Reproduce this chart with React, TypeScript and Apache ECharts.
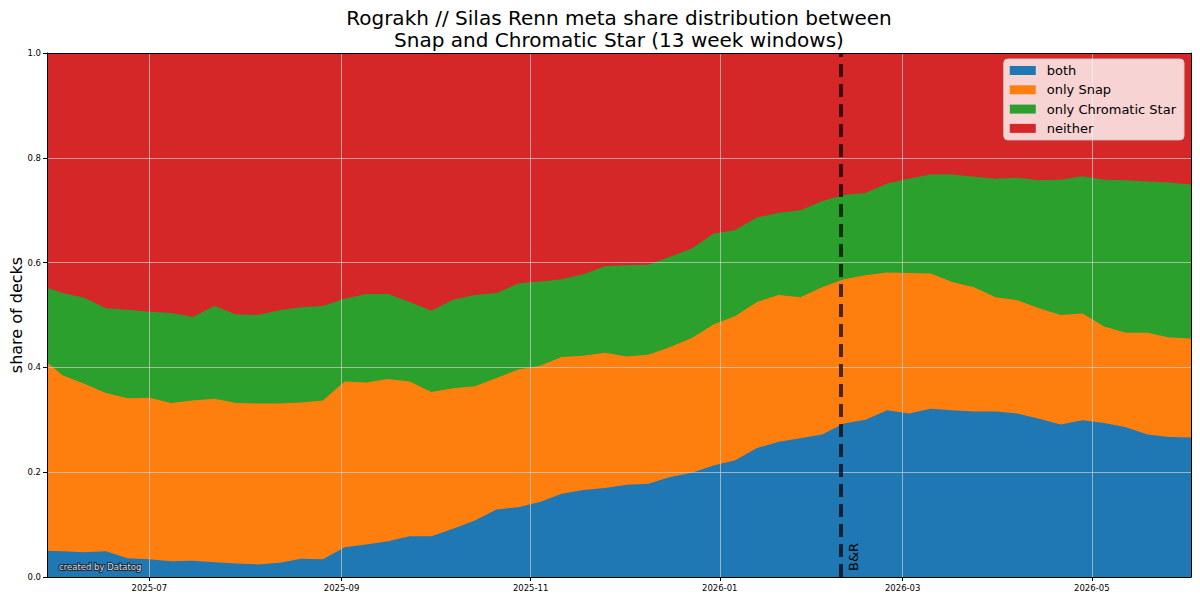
import { useEffect, useRef } from "react";
import * as echarts from "echarts";

// weekly 13-week-window samples (first point is the cut-off start of the window)
const dates = [
    "2025-05-29", "2025-06-03", "2025-06-10", "2025-06-17", "2025-06-24",
    "2025-07-01", "2025-07-08", "2025-07-15", "2025-07-22", "2025-07-29",
    "2025-08-05", "2025-08-12", "2025-08-19", "2025-08-26", "2025-09-02",
    "2025-09-09", "2025-09-16", "2025-09-23", "2025-09-30", "2025-10-07",
    "2025-10-14", "2025-10-21", "2025-10-28", "2025-11-04", "2025-11-11",
    "2025-11-18", "2025-11-25", "2025-12-02", "2025-12-09", "2025-12-16",
    "2025-12-23", "2025-12-30", "2026-01-06", "2026-01-13", "2026-01-20",
    "2026-01-27", "2026-02-03", "2026-02-10", "2026-02-17", "2026-02-24",
    "2026-03-03", "2026-03-10", "2026-03-17", "2026-03-24", "2026-03-31",
    "2026-04-07", "2026-04-14", "2026-04-21", "2026-04-28", "2026-05-05",
    "2026-05-12", "2026-05-19", "2026-05-26", "2026-06-02",
];

const both = [
    0.050, 0.049, 0.047, 0.049, 0.036, 0.034, 0.030, 0.031, 0.028, 0.026,
    0.024, 0.027, 0.035, 0.034, 0.057, 0.062, 0.068, 0.078, 0.078, 0.092,
    0.108, 0.129, 0.133, 0.143, 0.159, 0.166, 0.170, 0.176, 0.178, 0.191,
    0.199, 0.213, 0.223, 0.246, 0.258, 0.265, 0.272, 0.293, 0.300, 0.318,
    0.312, 0.321, 0.318, 0.316, 0.316, 0.312, 0.302, 0.291, 0.299, 0.294,
    0.286, 0.272, 0.267, 0.266,
];

const onlySnap = [
    0.360, 0.336, 0.322, 0.302, 0.305, 0.308, 0.302, 0.306, 0.312, 0.306,
    0.307, 0.304, 0.298, 0.303, 0.316, 0.309, 0.310, 0.295, 0.275, 0.268,
    0.256, 0.251, 0.263, 0.260, 0.261, 0.256, 0.258, 0.245, 0.246, 0.248,
    0.257, 0.269, 0.275, 0.279, 0.280, 0.269, 0.281, 0.275, 0.276, 0.263,
    0.268, 0.258, 0.245, 0.237, 0.218, 0.216, 0.211, 0.209, 0.204, 0.184,
    0.180, 0.194, 0.190, 0.189,
];

const onlyChromatic = [
    0.142, 0.157, 0.164, 0.162, 0.169, 0.164, 0.172, 0.159, 0.177, 0.169,
    0.169, 0.178, 0.182, 0.180, 0.158, 0.169, 0.162, 0.152, 0.155, 0.169,
    0.174, 0.162, 0.164, 0.161, 0.148, 0.156, 0.165, 0.174, 0.172, 0.172,
    0.171, 0.173, 0.164, 0.161, 0.157, 0.166, 0.164, 0.161, 0.157, 0.170,
    0.180, 0.189, 0.205, 0.211, 0.226, 0.234, 0.244, 0.258, 0.262, 0.280,
    0.291, 0.289, 0.296, 0.294,
];

const neither = [
    0.448, 0.458, 0.467, 0.487, 0.490, 0.494, 0.496, 0.504, 0.483, 0.499,
    0.500, 0.491, 0.485, 0.483, 0.469, 0.460, 0.460, 0.475, 0.492, 0.471,
    0.462, 0.458, 0.440, 0.436, 0.432, 0.422, 0.407, 0.405, 0.404, 0.389,
    0.373, 0.345, 0.338, 0.314, 0.305, 0.300, 0.283, 0.271, 0.267, 0.249,
    0.240, 0.232, 0.232, 0.236, 0.240, 0.238, 0.243, 0.242, 0.235, 0.242,
    0.243, 0.245, 0.247, 0.251,
];

const seriesNames = ["both", "only Snap", "only Chromatic Star", "neither"];
const seriesColors = ["#1f77b4", "#ff7f0e", "#2ca02c", "#d62728"];
const xTickLabels = ["2025-07", "2025-09", "2025-11", "2026-01", "2026-03", "2026-05"];
const xStart = "2025-05-29";
const xEnd = "2026-06-02";
const banDate = "2026-02-09";

const FONT = "DejaVu Sans";
const GRID = "rgba(205,205,205,0.7)";

export default function App() {
    const chartRef = useRef<HTMLDivElement>(null);

    useEffect(() => {
        if (!chartRef.current) return;
        const chart = echarts.init(chartRef.current, null, { renderer: "svg" });

        const toTime = (s: string) => echarts.number.parseDate(s).getTime();
        const tickValues = xTickLabels.map((t) => toTime(t + "-01"));
        const values = [both, onlySnap, onlyChromatic, neither];

        // stackplot: each layer is filled from 0 up to its running total,
        // lower layers painted on top of the higher ones
        const series: any[] = seriesNames.map((name, i) => ({
            name,
            type: "line",
            z: 4 - i,
            data: dates.map((d, j) => [
                toTime(d),
                values.slice(0, i + 1).reduce((s, arr) => s + arr[j], 0),
            ]),
            symbol: "none",
            lineStyle: { width: 0 },
            itemStyle: { color: seriesColors[i] },
            areaStyle: { color: seriesColors[i], opacity: 1, origin: "start" },
            emphasis: { disabled: true },
            silent: true,
        }));

        // B&R announcement line
        series[0].markLine = {
            silent: true,
            symbol: ["none", "none"],
            lineStyle: { color: "rgba(0,0,0,0.7)", width: 4, type: [13, 7] },
            label: {
                show: true,
                formatter: "B&R",
                position: "insideStartBottom",
                distance: 6,
                color: "#000",
                fontSize: 13,
                fontFamily: FONT,
            },
            data: [{ xAxis: toTime(banDate) }],
        };

        chart.setOption({
            animation: false,
            title: {
                text: "Rograkh // Silas Renn meta share distribution between\nSnap and Chromatic Star (13 week windows)",
                left: 619,
                top: 7,
                padding: 0,
                textAlign: "center",
                textStyle: {
                    fontFamily: FONT,
                    fontSize: 20,
                    fontWeight: "normal",
                    color: "#000",
                    lineHeight: 22,
                },
            },
            legend: {
                data: seriesNames,
                orient: "vertical",
                right: 16,
                top: 59,
                icon: "rect",
                itemWidth: 26,
                itemHeight: 9,
                itemGap: 6.3,
                padding: [5, 8, 5, 6],
                selectedMode: false,
                backgroundColor: "rgba(255,255,255,0.8)",
                borderColor: "#cccccc",
                borderWidth: 1,
                borderRadius: 4,
                itemStyle: { borderWidth: 0 },
                textStyle: {
                    fontFamily: FONT,
                    fontSize: 13,
                    color: "#000",
                    padding: [0, 0, 0, 6],
                },
                z: 10,
            },
            grid: {
                left: 47,
                right: 9,
                top: 53,
                bottom: 23,
                containLabel: false,
                outerBoundsMode: "none",
            },
            xAxis: [
                {
                    type: "value",
                    min: toTime(xStart),
                    max: toTime(xEnd),
                    z: 5,
                    axisLine: { show: true, onZero: false, lineStyle: { color: "#000", width: 1 } },
                    axisTick: {
                        show: true,
                        customValues: tickValues,
                        length: 4,
                        lineStyle: { color: "#000" },
                    },
                    axisLabel: {
                        customValues: tickValues,
                        margin: 6,
                        fontFamily: FONT,
                        fontSize: 8.5,
                        color: "#000",
                        formatter: (v: number) => {
                            const d = new Date(v);
                            return `${d.getFullYear()}-${String(d.getMonth() + 1).padStart(2, "0")}`;
                        },
                    },
                    splitLine: { show: true, lineStyle: { color: GRID, width: 1 } },
                },
                {
                    type: "value",
                    position: "top",
                    min: 0,
                    max: 1,
                    z: 5,
                    axisLine: { show: true, onZero: false, lineStyle: { color: "#000", width: 1 } },
                    axisTick: { show: false },
                    axisLabel: { show: false },
                    splitLine: { show: false },
                },
            ],
            yAxis: [
                {
                    type: "value",
                    min: 0,
                    max: 1,
                    interval: 0.2,
                    z: 5,
                    name: "share of decks",
                    nameLocation: "middle",
                    nameGap: 23,
                    nameMoveOverlap: false,
                    nameTextStyle: { fontFamily: FONT, fontSize: 16, color: "#000" },
                    axisLine: { show: true, onZero: false, lineStyle: { color: "#000", width: 1 } },
                    axisTick: { show: true, length: 4, lineStyle: { color: "#000" } },
                    axisLabel: {
                        margin: 6,
                        fontFamily: FONT,
                        fontSize: 8.5,
                        color: "#000",
                        formatter: (v: number) => v.toFixed(1),
                    },
                    splitLine: { show: true, lineStyle: { color: GRID, width: 1 } },
                },
                {
                    type: "value",
                    position: "right",
                    min: 0,
                    max: 1,
                    z: 5,
                    axisLine: { show: true, onZero: false, lineStyle: { color: "#000", width: 1 } },
                    axisTick: { show: false },
                    axisLabel: { show: false },
                    splitLine: { show: false },
                },
            ],
            graphic: [
                {
                    type: "text",
                    left: 58,
                    top: 561,
                    z: 20,
                    style: {
                        text: "created by Datatog",
                        fill: "#d9dde2",
                        stroke: "#1c2a38",
                        lineWidth: 2,
                        font: `8.5px "${FONT}"`,
                    },
                },
            ],
            series,
        });

        return () => {
            chart.dispose();
        };
    }, []);

    return (
        <div
            ref={chartRef}
            style={{ position: "absolute", left: 0, top: 0, width: 1200, height: 600 }}
        />
    );
}
